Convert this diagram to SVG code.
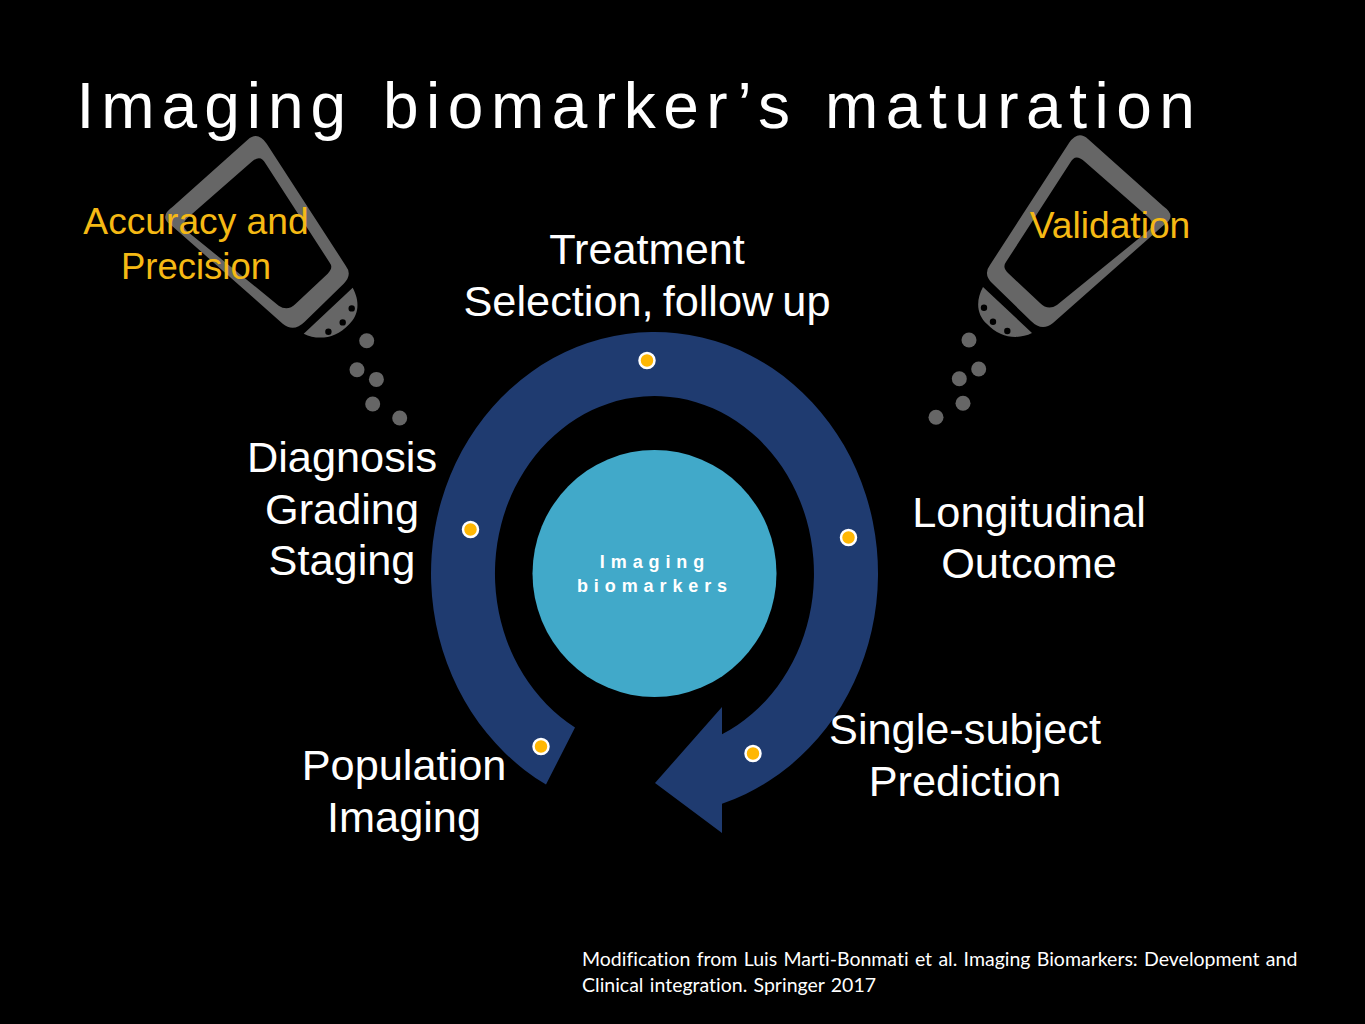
<svg xmlns="http://www.w3.org/2000/svg" width="1365" height="1024" viewBox="0 0 1365 1024">
<style>
text{font-family:"Liberation Sans",Arial,sans-serif;text-anchor:middle}
.lbl{font-size:43.300px;fill:#fff}
.gold{font-size:37.200px;fill:#f5b914}
.title{font-size:64px;fill:#fff;letter-spacing:7.500px;text-anchor:start}
.center{font-size:18px;font-weight:bold;fill:#fff;letter-spacing:5.900px}
.cite{font-family:Lato,"Open Sans",sans-serif;font-size:19.500px;word-spacing:1.300px;font-variant-ligatures:none;fill:#fff;text-anchor:start}
.dot{fill:#ffb703;stroke:#fff;stroke-width:2.500}
.sh{fill:#666}
</style>
<defs>
<g id="shaker">
<path class="sh" fill-rule="evenodd" d="M1069,143Q1078,130 1088,139L1163,206Q1177,216 1165,224L1053,323Q1042,332 1031,321L992,283Q983,274 990,265ZM1070,163L1006,262Q1002,267 1008,273L1040,303Q1048,311 1057,305L1148,231Q1156,224 1148,217L1084,161Q1075,153 1070,163Z"/>
<path class="sh" d="M983,287C976,300 976,314 987,324C1000,338 1018,340 1032,333Z"/>
<g fill="#000"><circle cx="984" cy="307.700" r="3.200"/><circle cx="993" cy="321.700" r="3.200"/><circle cx="1007.300" cy="331" r="3.200"/></g>
<g class="sh"><circle cx="969" cy="340" r="7.500"/><circle cx="978.700" cy="369" r="7.500"/><circle cx="959.300" cy="378.700" r="7.500"/><circle cx="963" cy="403.300" r="7.500"/><circle cx="936" cy="417.300" r="7.500"/></g>
</g>
</defs>
<rect width="1365" height="1024" fill="#000"/>
<text class="title" y="128"><tspan x="76.500" style="letter-spacing:7px">Imaging</tspan><tspan x="383">biomarker’s</tspan><tspan x="825">maturation</tspan></text>
<g id="shaker-left"><use href="#shaker" transform="translate(1335.700,.7) scale(-1,1)"/></g>
<g id="shaker-right"><use href="#shaker"/></g>
<g id="cycle-arrow">
<path fill="#1f3b70" d="M546,784.600A223.500,241.500 0 1 1 722,803.700L722,833L655,783L722,707L722,734.300A159.500,177.500 0 1 0 575,727.400Z"/>
</g>
<g id="center-node">
<ellipse cx="654.500" cy="573.500" rx="122" ry="123.500" fill="#41a9c9"/>
<text class="center" x="655" y="568">Imaging</text>
<text class="center" x="655" y="592">biomarkers</text>
</g>
<g id="stage-treatment"><circle class="dot" cx="647" cy="360.500" r="7.500"/>
<text class="lbl" x="647" y="264">Treatment</text><text class="lbl" x="647" y="316" word-spacing="-3">Selection, follow up</text></g>
<g id="stage-longitudinal"><circle class="dot" cx="848.500" cy="537.500" r="7.500"/>
<text class="lbl" x="1029" y="527">Longitudinal</text><text class="lbl" x="1029" y="578">Outcome</text></g>
<g id="stage-prediction"><circle class="dot" cx="753" cy="753.500" r="7.500"/>
<text class="lbl" x="965" y="744">Single-subject</text><text class="lbl" x="965" y="796">Prediction</text></g>
<g id="stage-population"><circle class="dot" cx="541" cy="746.500" r="7.500"/>
<text class="lbl" x="404" y="780">Population</text><text class="lbl" x="404" y="832">Imaging</text></g>
<g id="stage-diagnosis"><circle class="dot" cx="470.500" cy="529.500" r="7.500"/>
<text class="lbl" x="342" y="472">Diagnosis</text><text class="lbl" x="342" y="524">Grading</text><text class="lbl" x="342" y="575">Staging</text></g>
<text class="gold" x="196" y="234">Accuracy and</text>
<text class="gold" x="196" y="279" style="font-size:36.500px">Precision</text>
<text class="gold" x="1110" y="238">Validation</text>
<text class="cite" x="582" y="966">Modification from Luis Marti-Bonmati et al. Imaging Biomarkers: Development and</text>
<text class="cite" x="582" y="992">Clinical integration. Springer 2017</text>
</svg>
